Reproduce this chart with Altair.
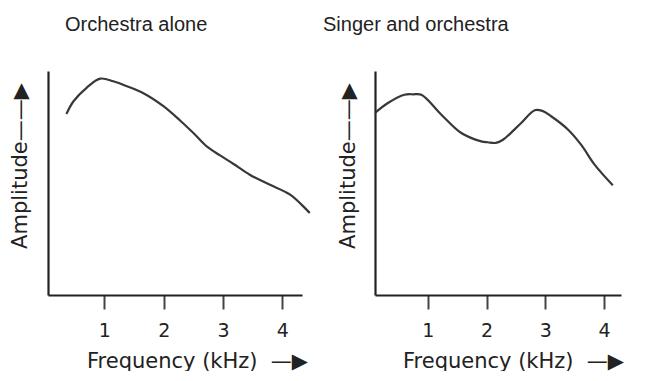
import altair as alt
import pandas as pd

# ---- data ----
left_freq = [0.36, 0.48, 0.70, 0.93, 1.15, 1.38, 1.65, 2.00, 2.28, 2.50, 2.73, 2.95, 3.17, 3.45, 3.79, 4.13, 4.46]
left_amp = [8.08, 8.65, 9.25, 9.66, 9.54, 9.32, 9.02, 8.42, 7.78, 7.23, 6.62, 6.23, 5.86, 5.37, 4.92, 4.48, 3.66]

right_freq = [0.10, 0.32, 0.60, 0.75, 0.89, 1.23, 1.57, 1.91, 2.02, 2.16, 2.28, 2.59, 2.82, 2.95, 3.10, 3.39, 3.61, 3.84, 4.15]
right_amp = [8.13, 8.57, 8.94, 8.96, 8.94, 8.05, 7.23, 6.86, 6.82, 6.79, 6.93, 7.68, 8.25, 8.22, 7.98, 7.38, 6.71, 5.82, 4.90]

tick_values = [1, 2, 3, 4]
titles = ["Orchestra alone", "Singer and orchestra"]
x_title = "Frequency (kHz) \u00a0\u2014\u25b6"
y_title = "Amplitude\u2014\u2014\u25b6"

INK = "#222222"
AXIS_FONT = "DejaVu Sans"


def panel(freq, amp, title, xdom, width, title_dx, xtitle_x, ytitle_x):
    df = pd.DataFrame({"f": freq, "a": amp})
    return (
        alt.Chart(df)
        .mark_line(color="#383838", strokeWidth=2.2, interpolate="catmull-rom")
        .encode(
            x=alt.X(
                "f:Q",
                scale=alt.Scale(domain=xdom, nice=False, zero=False),
                axis=alt.Axis(
                    values=tick_values,
                    format="d",
                    grid=False,
                    domain=True,
                    domainColor=INK,
                    domainWidth=2.2,
                    ticks=True,
                    tickSize=14,
                    tickWidth=2,
                    tickColor="#444444",
                    labelFont=AXIS_FONT,
                    labelFontSize=19,
                    labelColor=INK,
                    labelPadding=12,
                    title=x_title,
                    titleFont=AXIS_FONT,
                    titleFontSize=21,
                    titleFontWeight="normal",
                    titleColor=INK,
                    titleX=xtitle_x,
                    titleY=66,
                    titleAlign="center",
                    titleBaseline="middle",
                ),
            ),
            y=alt.Y(
                "a:Q",
                scale=alt.Scale(domain=[0, 10], nice=False, zero=False),
                axis=alt.Axis(
                    grid=False,
                    labels=False,
                    ticks=False,
                    domain=True,
                    domainColor=INK,
                    domainWidth=2.2,
                    title=y_title,
                    titleFont=AXIS_FONT,
                    titleFontSize=21,
                    titleFontWeight="normal",
                    titleColor=INK,
                    titleAngle=270,
                    titleX=ytitle_x,
                    titleY=94.5,
                    titleAlign="center",
                    titleBaseline="middle",
                ),
            ),
        )
        .properties(
            width=width,
            height=224,
            title=alt.TitleParams(
                text=title,
                anchor="start",
                frame="group",
                dx=title_dx,
                offset=20,
                baseline="alphabetic",
                font="Liberation Sans",
                fontSize=20,
                fontWeight="normal",
                color=INK,
            ),
        )
    )


p1 = panel(left_freq, left_amp, titles[0], [0.05, 4.33], 254, 17, 149, -28)
p2 = panel(right_freq, right_amp, titles[1], [0.10, 4.29], 246, -52, 138, -27)

chart = (
    alt.hconcat(p1, p2, spacing=8)
    .properties(padding={"left": 0, "top": 7, "right": 0, "bottom": 0}, background="white")
    .configure_view(stroke=None)
)

chart.save("out.html", embed_options={"renderer": "svg", "actions": False})
